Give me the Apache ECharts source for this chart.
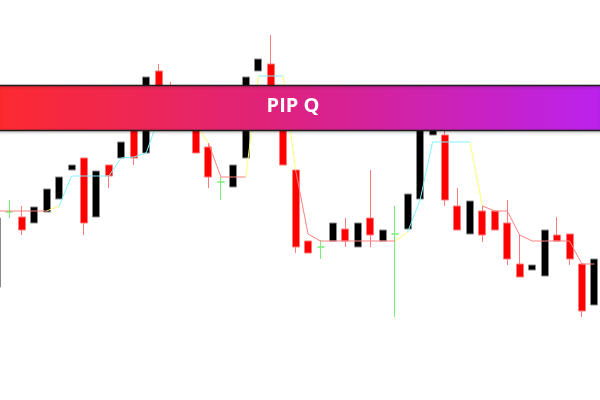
<!DOCTYPE html>
<html>
<head>
<meta charset="utf-8">
<script src="https://cdn.jsdelivr.net/npm/echarts@6/dist/echarts.min.js"></script>
<style>html,body{margin:0;padding:0;background:#fff;}#c{width:600px;height:400px;}</style>
</head>
<body>
<div id="c"></div>
<script>
// bar numbers (x axis categories)
const categories = ['1','2','3','4','5','6','7','8','9','10','11','12','13','14','15','16','17','18','19','20','21','22','23','24','25','26','27','28','29','30','31','32','33','34','35','36','37','38','39','40','41','42','43','44','45','46','47','48','49'];

const opens  = [1.1113,1.1188,1.1183,1.1177,1.1188,1.1201,1.1230,1.1242,1.1183,1.1235,1.1242,1.1282,1.1247,1.1329,1.1305,1.1280,1.1295,1.1253,1.1218,1.1213,1.1242,1.1329,1.1336,1.1288,1.1230,1.1159,1.1153,1.1159,1.1171,1.1153,1.1182,1.1159,1.1166,1.1171,1.1201,1.1265,1.1265,1.1194,1.1166,1.1189,1.1189,1.1177,1.1136,1.1130,1.1124,1.1165,1.1166,1.1136,1.1095];
const closes = [1.1182,1.1188,1.1170,1.1193,1.1211,1.1223,1.1235,1.1177,1.1229,1.1224,1.1258,1.1242,1.1323,1.1295,1.1285,1.1300,1.1247,1.1223,1.1218,1.1235,1.1323,1.1341,1.1300,1.1235,1.1153,1.1147,1.1153,1.1177,1.1159,1.1177,1.1165,1.1170,1.1166,1.1206,1.1305,1.1280,1.1200,1.1170,1.1199,1.1165,1.1170,1.1141,1.1123,1.1135,1.1170,1.1159,1.1141,1.1089,1.1141];
const lows   = [1.1113,1.1182,1.1165,1.1177,1.1188,1.1201,1.1230,1.1165,1.1183,1.1212,1.1242,1.1235,1.1247,1.1290,1.1278,1.1280,1.1247,1.1212,1.1200,1.1213,1.1242,1.1329,1.1295,1.1235,1.1147,1.1147,1.1141,1.1159,1.1153,1.1153,1.1153,1.1159,1.1083,1.1171,1.1201,1.1265,1.1194,1.1170,1.1166,1.1158,1.1170,1.1135,1.1123,1.1130,1.1124,1.1159,1.1135,1.1083,1.1095];
const highs  = [1.1182,1.1200,1.1194,1.1193,1.1211,1.1223,1.1235,1.1242,1.1229,1.1235,1.1258,1.1288,1.1323,1.1336,1.1318,1.1300,1.1295,1.1257,1.1223,1.1235,1.1323,1.1341,1.1365,1.1288,1.1230,1.1159,1.1160,1.1177,1.1182,1.1177,1.1230,1.1170,1.1194,1.1206,1.1305,1.1280,1.1275,1.1212,1.1199,1.1195,1.1189,1.1200,1.1166,1.1135,1.1170,1.1183,1.1166,1.1136,1.1141];

// trend line value per bar, and state of each segment (d = down, u = up, t = turning)
const trend = [1.1189,1.1189,1.1189,1.1189,1.1189,1.1194,1.1224,1.1224,1.1224,1.1224,1.1242,1.1243,1.1247,1.1282,1.1300,1.1300,1.1276,1.1257,1.1223,1.1223,1.1223,1.1324,1.1324,1.1324,1.1230,1.1166,1.1159,1.1159,1.1159,1.1159,1.1159,1.1159,1.1159,1.1168,1.1200,1.1258,1.1258,1.1258,1.1258,1.1194,1.1189,1.1189,1.1165,1.1159,1.1159,1.1159,1.1159,1.1136,1.1136];
const trendState = ['d','d','d','d','t','u','u','u','u','u','u','u','u','u','t','t','t','d','d','d','t','u','u','t','d','d','d','d','d','d','d','d','t','u','u','u','u','u','t','d','d','d','d','d','d','d','d','d'];

const bannerText = 'PIP Q';

function segLine(state) {
  const out = categories.map(() => null);
  trendState.forEach((s, i) => {
    if (s === state) { out[i] = trend[i]; out[i + 1] = trend[i + 1]; }
  });
  return out;
}

const dojiStyle = {color:'#77ee77', color0:'#77ee77', borderColor:'#77ee77', borderColor0:'#77ee77', borderColorDoji:'#77ee77'};
const candleData = categories.map((c, i) => {
  const v = [opens[i], closes[i], lows[i], highs[i]];
  if (opens[i] === closes[i]) return {value: v, itemStyle: dojiStyle};
  return v;
});

const chart = echarts.init(document.getElementById('c'), null, {renderer: 'canvas'});
const lineCommon = {type: 'line', showSymbol: false, symbol: 'none', connectNulls: false, z: 5, animation: false};
chart.setOption({
  animation: false,
  backgroundColor: '#ffffff',
  grid: {left: -3.2, right: 5.6, top: 0, bottom: 0, outerBoundsMode: 'none', containLabel: false},
  xAxis: {type: 'category', data: categories, boundaryGap: false, show: false},
  yAxis: {type: 'value', min: 1.1000, max: 1.1400, show: false},
  series: [
    {
      type: 'candlestick',
      data: candleData,
      barWidth: 7.5,
      z: 2,
      itemStyle: {
        color: '#000000', color0: '#ff0000',
        borderColor: '#8a8a8a', borderColor0: '#ff7a7a',
        borderColorDoji: '#77ee77', borderWidth: 1
      }
    },
    Object.assign({}, lineCommon, {data: segLine('d'), lineStyle: {color: '#ff8080', width: 1}}),
    Object.assign({}, lineCommon, {data: segLine('u'), lineStyle: {color: '#80f4ff', width: 1}}),
    Object.assign({}, lineCommon, {data: segLine('t'), lineStyle: {color: '#ffff70', width: 1}})
  ],
  graphic: [
    {
      type: 'rect', z: 100,
      shape: {x: -2, y: 85.5, width: 604, height: 45},
      style: {
        fill: new echarts.graphic.LinearGradient(0, 0, 1, 0, [
          {offset: 0, color: '#fd2a2e'},
          {offset: 0.5, color: '#dc2284'},
          {offset: 1, color: '#bb22ee'}
        ]),
        stroke: '#1e1e1e', lineWidth: 1.5,
        shadowColor: 'rgba(0,0,0,0.25)', shadowBlur: 3, shadowOffsetY: 1
      }
    },
    {
      type: 'text', z: 101,
      x: 293, y: 106,
      style: {
        text: bannerText, fill: '#ffffff',
        font: 'bold 20px "Open Sans", sans-serif',
        textAlign: 'center', textVerticalAlign: 'middle'
      }
    }
  ]
});
</script>
</body>
</html>
